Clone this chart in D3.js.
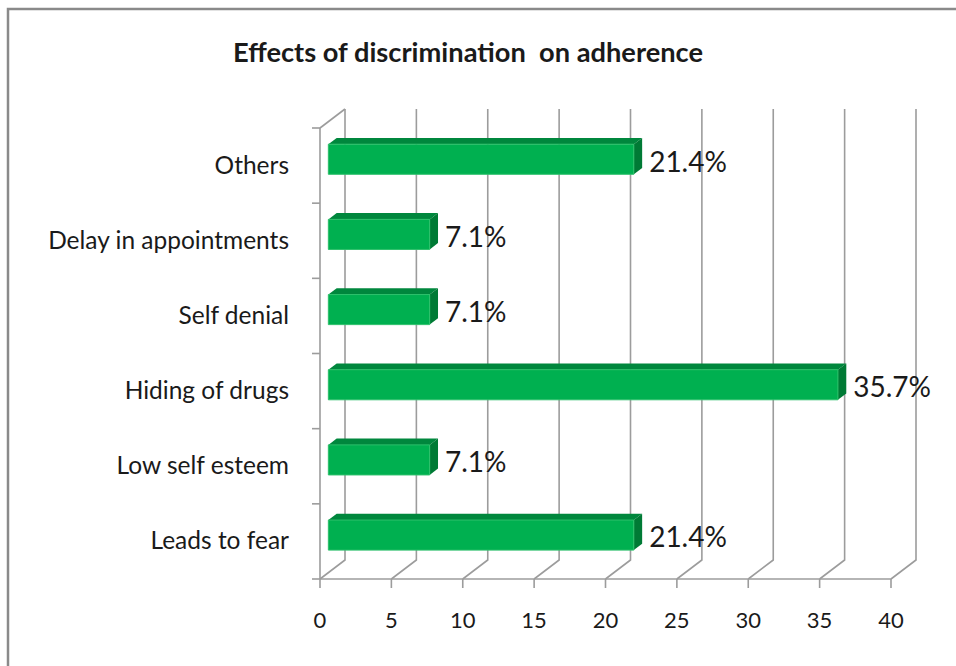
<!DOCTYPE html>
<html>
<head>
<meta charset="utf-8">
<script src="https://cdn.jsdelivr.net/npm/d3@7"></script>
<style>
  body { margin: 0; background: #fff; }
  text { font-family: Lato, "Open Sans", sans-serif; fill: #1a1a1a; }
</style>
</head>
<body>
<div id="chart"></div>
<script>
// chart data
var categories = ["Others", "Delay in appointments", "Self denial", "Hiding of drugs", "Low self esteem", "Leads to fear"];
var values = [21.4, 7.1, 7.1, 35.7, 7.1, 21.4];
var valueLabels = ["21.4%", "7.1%", "7.1%", "35.7%", "7.1%", "21.4%"];
var xTicks = [0, 5, 10, 15, 20, 25, 30, 35, 40];
var title = "Effects of discrimination  on adherence";

var W = 956, H = 666;

var svg = d3.select("#chart")
    .append("svg")
    .attr("width", W)
    .attr("height", H);

// outer chart border (only left and top edges are in frame)
svg.append("rect")
    .attr("x", 8).attr("y", 9)
    .attr("width", 980).attr("height", 700)
    .attr("fill", "none")
    .attr("stroke", "#8a8a8a")
    .attr("stroke-width", 2.5);

svg.append("text")
    .attr("x", 233).attr("y", 62)
    .attr("font-size", 26)
    .attr("font-weight", "bold")
    .attr("textLength", 470)
    .attr("lengthAdjust", "spacingAndGlyphs")
    .style("white-space", "pre")
    .text(title);

// scales
var x = d3.scaleLinear().domain([0, 40]).range([320, 891]);
var y = d3.scaleBand().domain(categories).range([128, 579]);

// 3d depth offset of the back wall
var depthX = 25, depthY = -19;
function pt(v, yy, f) {
    return [x(v) + depthX * f, yy + depthY * f];
}

var grid = svg.append("g")
    .attr("fill", "none")
    .attr("stroke", "#9c9c9c")
    .attr("stroke-width", 1.6);

var floorY = y.range()[1], topY = y.range()[0];

// back wall gridlines + floor diagonals + tick marks
xTicks.forEach(function (t) {
    var p0 = [x(t), floorY], p1 = pt(t, floorY, 1), p2 = [p1[0], 109];
    grid.append("path").attr("d", d3.line()([p0, p1, p2]));
    grid.append("line")
        .attr("x1", x(t)).attr("x2", x(t))
        .attr("y1", floorY).attr("y2", floorY + 9);
});

// front floor edge
grid.append("line")
    .attr("x1", x(0)).attr("x2", x(40))
    .attr("y1", floorY).attr("y2", floorY);

// category axis with tick marks and top diagonal
grid.append("line")
    .attr("x1", x(0)).attr("x2", x(0))
    .attr("y1", topY).attr("y2", floorY);
grid.append("path").attr("d", d3.line()([[x(0), topY], pt(0, topY, 1)]));
var bounds = categories.map(function (c) { return y(c); }).concat([floorY]);
bounds.forEach(function (b) {
    grid.append("line")
        .attr("x1", x(0) - 8).attr("x2", x(0))
        .attr("y1", b).attr("y2", b);
});

// x tick labels
svg.append("g")
    .selectAll("text")
    .data(xTicks)
    .enter().append("text")
    .attr("x", function (d) { return x(d); })
    .attr("y", 628)
    .attr("text-anchor", "middle")
    .attr("font-size", 22)
    .text(function (d) { return d; });

// category labels
svg.append("g")
    .selectAll("text")
    .data(categories)
    .enter().append("text")
    .attr("x", 289)
    .attr("y", function (d) { return y(d) + y.bandwidth() / 2 + 8; })
    .attr("text-anchor", "end")
    .attr("font-size", 24.5)
    .text(function (d) { return d; });

// 3d bars
var barH = y.bandwidth() * 0.4;
var f1 = 1 / 3, f2 = 2 / 3;
var bars = svg.append("g")
    .selectAll("g")
    .data(categories.map(function (c, i) { return { cat: c, value: values[i], label: valueLabels[i] }; }))
    .enter().append("g");

bars.append("path") // top face
    .attr("fill", "#00873d")
    .attr("d", function (d) {
        var yt = y(d.cat) + y.bandwidth() / 2 - barH / 2;
        return d3.line()([pt(0, yt, f1), pt(d.value, yt, f1), pt(d.value, yt, f2), pt(0, yt, f2)]) + "Z";
    });

bars.append("path") // side face
    .attr("fill", "#007a35")
    .attr("d", function (d) {
        var yt = y(d.cat) + y.bandwidth() / 2 - barH / 2;
        return d3.line()([pt(d.value, yt, f1), pt(d.value, yt, f2), pt(d.value, yt + barH, f2), pt(d.value, yt + barH, f1)]) + "Z";
    });

bars.append("path") // front face
    .attr("fill", "#00b050")
    .attr("stroke", "#2cc06a")
    .attr("stroke-width", 1)
    .attr("d", function (d) {
        var yt = y(d.cat) + y.bandwidth() / 2 - barH / 2;
        return d3.line()([pt(0, yt, f1), pt(d.value, yt, f1), pt(d.value, yt + barH, f1), pt(0, yt + barH, f1)]) + "Z";
    });

bars.append("text")
    .attr("x", function (d) { return x(d.value) + depthX * f2 + 7; })
    .attr("y", function (d) { return y(d.cat) + y.bandwidth() / 2 + 6; })
    .attr("font-size", 28)
    .text(function (d) { return d.label; });
</script>
</body>
</html>
